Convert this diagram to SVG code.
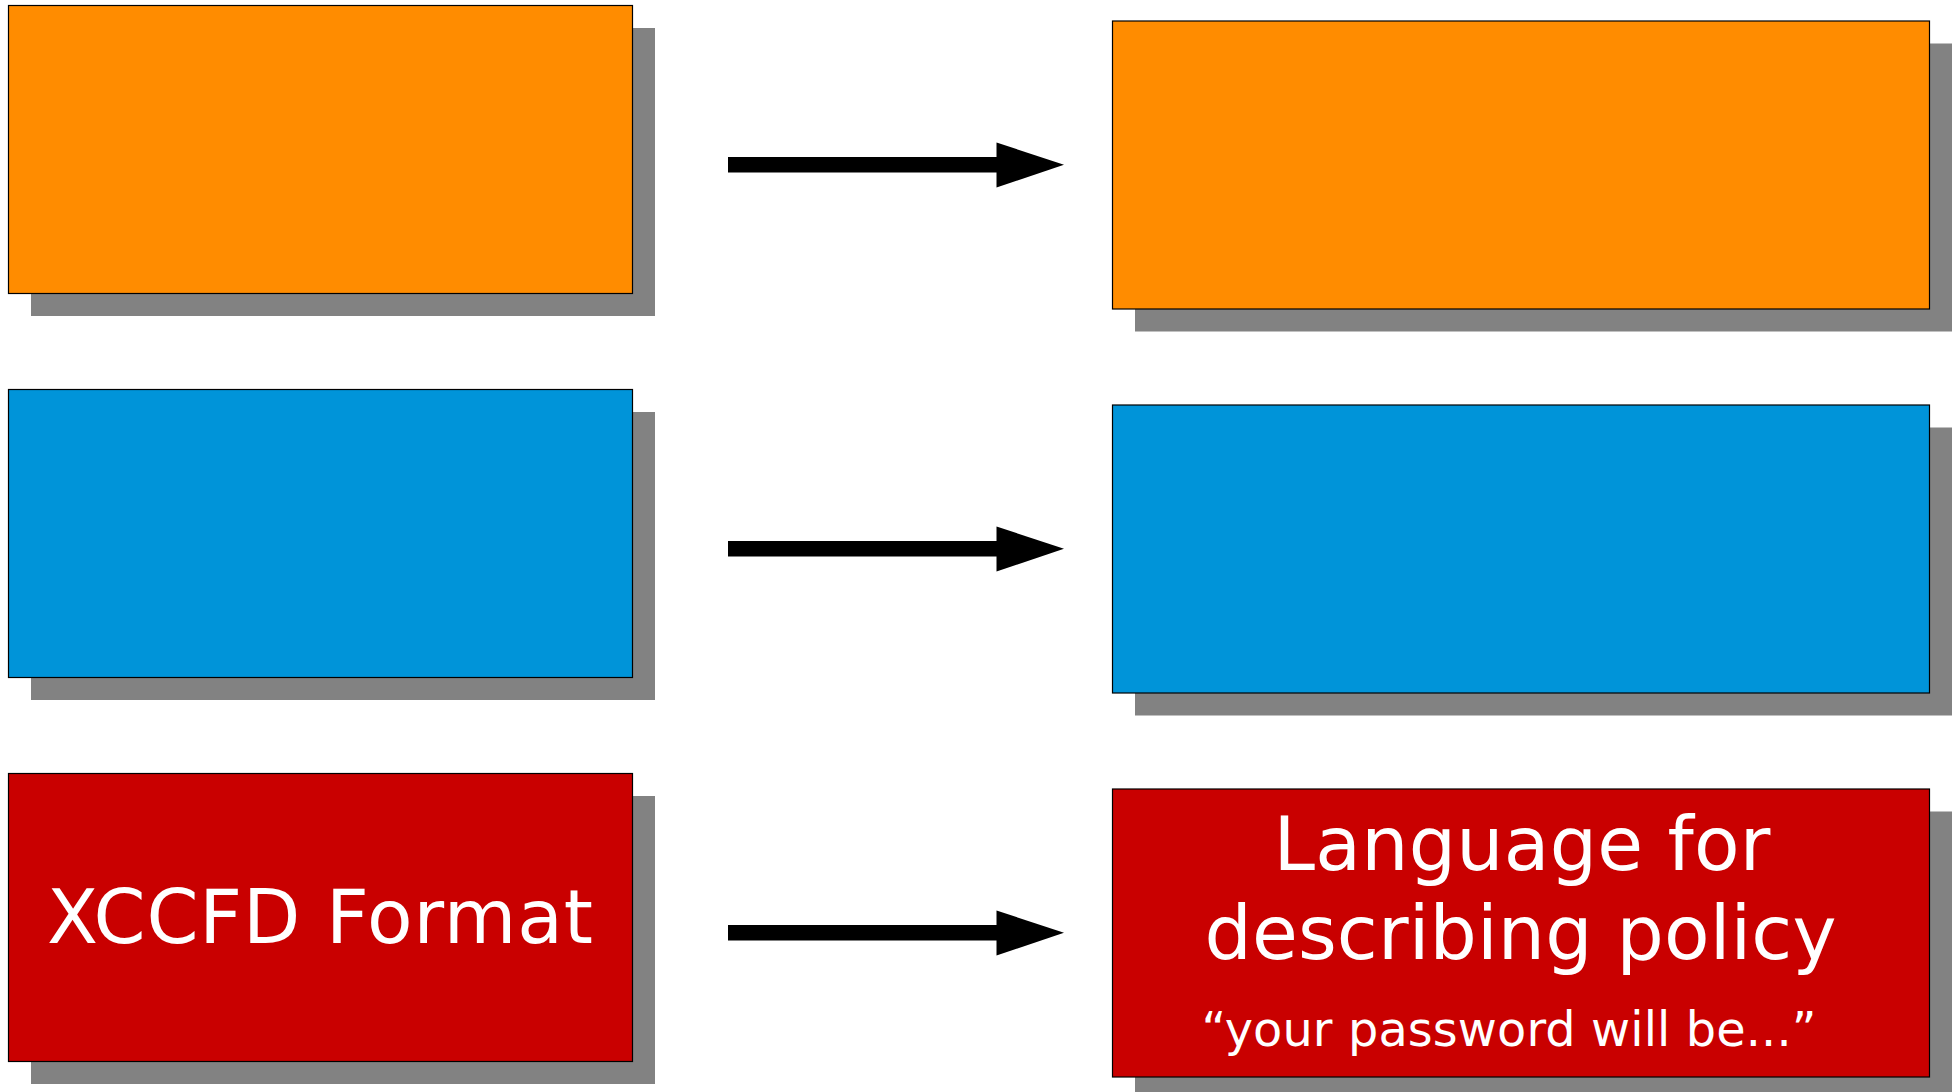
<svg xmlns="http://www.w3.org/2000/svg" width="1958" height="1092" viewBox="0 0 1958 1092">
<style>
.sh{fill:#828282}
.bx{stroke:#000;stroke-width:1.2}
.or{fill:#ff8c00}
.bl{fill:#0094d9}
.rd{fill:#c90000}
.t{font-family:"DejaVu Sans",Verdana,sans-serif;fill:#fff;text-anchor:middle}
.ar{fill:#000}
</style>
<rect width="1958" height="1092" fill="#fff"/>
<g id="left-orange">
<rect class="sh" x="31" y="28" width="624" height="288"/>
<rect class="bx or" x="8.5" y="5.5" width="624" height="288"/>
</g>
<g id="left-blue">
<rect class="sh" x="31" y="412" width="624" height="288"/>
<rect class="bx bl" x="8.5" y="389.5" width="624" height="288"/>
</g>
<g id="left-red">
<rect class="sh" x="31" y="796" width="624" height="288"/>
<rect class="bx rd" x="8.5" y="773.5" width="624" height="288"/>
<text class="t" x="320" y="943" font-size="74.5" textLength="546">XCCFD Format</text>
</g>
<g id="right-orange">
<rect class="sh" x="1135" y="43.5" width="817" height="288"/>
<rect class="bx or" x="1112.5" y="21" width="817" height="288"/>
</g>
<g id="right-blue">
<rect class="sh" x="1135" y="427.5" width="817" height="288"/>
<rect class="bx bl" x="1112.5" y="405" width="817" height="288"/>
</g>
<g id="right-red">
<rect class="sh" x="1135" y="811.5" width="817" height="288"/>
<rect class="bx rd" x="1112.5" y="789" width="817" height="288"/>
<text class="t" x="1522" y="870" font-size="74.5" textLength="497">Language for</text>
<text class="t" x="1520.5" y="959" font-size="74.5" textLength="632">describing policy</text>
<text class="t" x="1509" y="1046" font-size="47.8" textLength="615">“your password will be...”</text>
</g>
<g id="connectors">
<rect class="ar" x="728" y="157" width="270" height="15.5"/>
<polygon class="ar" points="996.5,142.5 1064,164.8 996.5,187.5"/>
<rect class="ar" x="728" y="541" width="270" height="15.5"/>
<polygon class="ar" points="996.5,526.5 1064,548.8 996.5,571.5"/>
<rect class="ar" x="728" y="925" width="270" height="15.5"/>
<polygon class="ar" points="996.5,910.5 1064,932.8 996.5,955.5"/>
</g>
</svg>
